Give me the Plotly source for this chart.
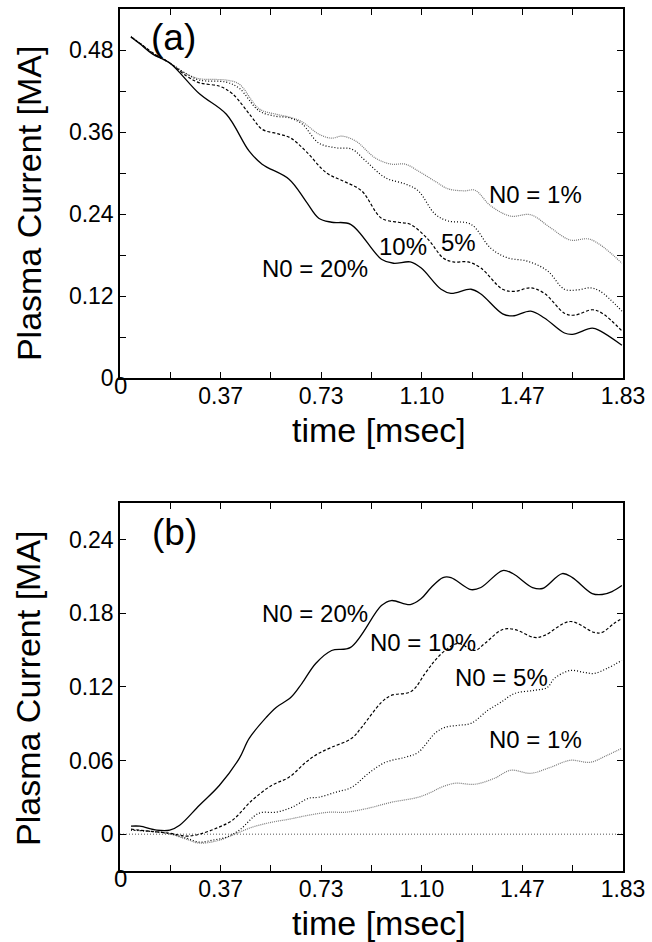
import plotly.graph_objects as go

# ---- panel (a): plasma current decay, time [msec] vs current [MA]
t_a_20 = [0.040, 0.072, 0.119, 0.181, 0.289, 0.387, 0.470, 0.517, 0.615, 0.676, 0.723, 0.770, 0.839,
          0.951, 0.995, 1.056, 1.096, 1.168, 1.204, 1.277, 1.313, 1.392, 1.429, 1.494, 1.544, 1.617,
          1.646, 1.718, 1.747, 1.826]
i_a_20 = [0.499, 0.489, 0.474, 0.461, 0.416, 0.386, 0.332, 0.313, 0.291, 0.259, 0.234, 0.228, 0.225,
          0.174, 0.168, 0.170, 0.161, 0.130, 0.124, 0.130, 0.123, 0.094, 0.091, 0.098, 0.088, 0.066,
          0.064, 0.073, 0.069, 0.048]

t_a_10 = [0.040, 0.072, 0.119, 0.181, 0.242, 0.289, 0.362, 0.409, 0.481, 0.517, 0.579, 0.622, 0.676,
          0.752, 0.814, 0.879, 0.951, 1.013, 1.056, 1.121, 1.175, 1.212, 1.266, 1.313, 1.392, 1.436,
          1.494, 1.544, 1.617, 1.653, 1.718, 1.754, 1.826]
i_a_10 = [0.499, 0.490, 0.476, 0.461, 0.442, 0.432, 0.427, 0.416, 0.381, 0.364, 0.357, 0.351, 0.332,
          0.300, 0.288, 0.274, 0.234, 0.228, 0.225, 0.203, 0.176, 0.170, 0.170, 0.161, 0.130, 0.127,
          0.132, 0.124, 0.095, 0.092, 0.100, 0.095, 0.069]

t_a_5 = [0.040, 0.072, 0.119, 0.181, 0.242, 0.289, 0.387, 0.434, 0.506, 0.568, 0.615, 0.662, 0.723,
         0.785, 0.843, 0.893, 0.966, 1.038, 1.085, 1.146, 1.193, 1.277, 1.349, 1.410, 1.483, 1.555,
         1.617, 1.664, 1.711, 1.747, 1.826]
i_a_5 = [0.499, 0.490, 0.475, 0.461, 0.445, 0.436, 0.433, 0.424, 0.391, 0.383, 0.381, 0.372, 0.344,
         0.337, 0.335, 0.318, 0.293, 0.284, 0.274, 0.240, 0.230, 0.225, 0.190, 0.176, 0.171, 0.157,
         0.130, 0.129, 0.132, 0.127, 0.098]

t_a_1 = [0.040, 0.072, 0.119, 0.181, 0.242, 0.289, 0.387, 0.434, 0.506, 0.568, 0.615, 0.662, 0.723,
         0.770, 0.807, 0.857, 0.929, 0.987, 1.038, 1.085, 1.146, 1.193, 1.255, 1.291, 1.349, 1.421,
         1.494, 1.566, 1.638, 1.711, 1.826]
i_a_1 = [0.500, 0.490, 0.475, 0.461, 0.445, 0.438, 0.436, 0.430, 0.394, 0.386, 0.382, 0.375, 0.357,
         0.351, 0.354, 0.347, 0.322, 0.313, 0.313, 0.303, 0.288, 0.277, 0.274, 0.275, 0.252, 0.237,
         0.239, 0.220, 0.202, 0.203, 0.168]

# ---- panel (b): runaway current growth
t_b_20 = [0.040, 0.072, 0.134, 0.181, 0.217, 0.289, 0.362, 0.434, 0.470, 0.532, 0.568, 0.622, 0.662,
          0.712, 0.770, 0.839, 0.951, 0.987, 1.056, 1.096, 1.132, 1.175, 1.204, 1.277, 1.313, 1.392,
          1.429, 1.501, 1.537, 1.609, 1.646, 1.718, 1.754, 1.790, 1.826]
i_b_20 = [0.0065, 0.0065, 0.0033, 0.0033, 0.0073, 0.0236, 0.0399, 0.0618, 0.0781, 0.0952, 0.1033,
          0.1115, 0.1229, 0.1391, 0.1497, 0.1522, 0.1863, 0.1904, 0.1871, 0.1920, 0.2010, 0.2091,
          0.2091, 0.1993, 0.2010, 0.2148, 0.2124, 0.2010, 0.2002, 0.2124, 0.2091, 0.1961, 0.1953,
          0.1977, 0.2026]

t_b_10 = [0.040, 0.108, 0.181, 0.242, 0.289, 0.351, 0.409, 0.481, 0.553, 0.615, 0.676, 0.723, 0.770,
          0.843, 0.879, 0.951, 0.987, 1.060, 1.110, 1.146, 1.183, 1.230, 1.291, 1.327, 1.392, 1.436,
          1.508, 1.544, 1.638, 1.725, 1.754, 1.797, 1.826]
i_b_10 = [0.0041, 0.0024, 0.0008, -0.0016, 0.0000, 0.0049, 0.0114, 0.0277, 0.0399, 0.0464, 0.0586,
          0.0659, 0.0708, 0.0781, 0.0871, 0.1074, 0.1131, 0.1164, 0.1310, 0.1416, 0.1497, 0.1554,
          0.1497, 0.1554, 0.1668, 0.1668, 0.1603, 0.1619, 0.1733, 0.1644, 0.1644, 0.1717, 0.1758]

t_b_5 = [0.040, 0.170, 0.242, 0.289, 0.336, 0.387, 0.434, 0.506, 0.568, 0.626, 0.687, 0.723, 0.785,
         0.843, 0.904, 0.966, 1.038, 1.085, 1.146, 1.183, 1.230, 1.277, 1.338, 1.385, 1.436, 1.508,
         1.555, 1.580, 1.638, 1.689, 1.725, 1.772, 1.826]
i_b_5 = [0.0033, 0.0008, -0.0033, -0.0065, -0.0049, -0.0024, 0.0033, 0.0171, 0.0179, 0.0220, 0.0293,
         0.0301, 0.0342, 0.0382, 0.0496, 0.0586, 0.0627, 0.0667, 0.0822, 0.0871, 0.0887, 0.0903,
         0.1009, 0.1074, 0.1147, 0.1172, 0.1196, 0.1269, 0.1334, 0.1318, 0.1310, 0.1351, 0.1416]

t_b_1 = [0.040, 0.170, 0.242, 0.289, 0.362, 0.409, 0.481, 0.553, 0.615, 0.687, 0.760, 0.821, 0.904,
         0.987, 1.085, 1.132, 1.168, 1.219, 1.291, 1.363, 1.421, 1.494, 1.566, 1.638, 1.711, 1.772,
         1.826]
i_b_1 = [0.0033, 0.0008, -0.0041, -0.0073, -0.0049, -0.0008, 0.0057, 0.0098, 0.0122, 0.0155, 0.0179,
         0.0179, 0.0212, 0.0260, 0.0301, 0.0342, 0.0382, 0.0415, 0.0407, 0.0456, 0.0521, 0.0496,
         0.0545, 0.0602, 0.0586, 0.0643, 0.0700]

t_zero = [0.0, 1.83]
i_zero = [0.0, 0.0]

# axis ticks
x_tick_vals = [0.0, 0.183, 0.366, 0.549, 0.732, 0.915, 1.098, 1.281, 1.464, 1.647, 1.83]
x_tick_text = ["", "", "0.37", "", "0.73", "", "1.10", "", "1.47", "", "1.83"]
ya_tick_vals = [0.0, 0.06, 0.12, 0.18, 0.24, 0.30, 0.36, 0.42, 0.48]
ya_tick_text = ["0", "", "0.12", "", "0.24", "", "0.36", "", "0.48"]
yb_tick_vals = [0.0, 0.06, 0.12, 0.18, 0.24]
yb_tick_text = ["0", "0.06", "0.12", "0.18", "0.24"]

FONT = "Liberation Sans, Arial, sans-serif"

styles = {
    "20": dict(color="black", width=1.3),
    "10": dict(color="black", width=1.2, dash="3px,2px"),
    "5": dict(color="black", width=1.2, dash="1px,2px"),
    "1": dict(color="#7a7a7a", width=1.2, dash="1px,1px"),
}

fig = go.Figure()

# panel (a)
for t, i, k in [(t_a_1, i_a_1, "1"), (t_a_5, i_a_5, "5"), (t_a_10, i_a_10, "10"), (t_a_20, i_a_20, "20")]:
    fig.add_trace(go.Scatter(x=t, y=i, mode="lines", line=styles[k], line_shape="spline",
                             showlegend=False, xaxis="x", yaxis="y"))

# panel (b)
fig.add_trace(go.Scatter(x=t_zero, y=i_zero, mode="lines", showlegend=False,
                         line=dict(color="#555555", width=1, dash="1px,2px"), xaxis="x2", yaxis="y2"))
for t, i, k in [(t_b_1, i_b_1, "1"), (t_b_5, i_b_5, "5"), (t_b_10, i_b_10, "10"), (t_b_20, i_b_20, "20")]:
    fig.add_trace(go.Scatter(x=t, y=i, mode="lines", line=styles[k], line_shape="spline",
                             showlegend=False, xaxis="x2", yaxis="y2"))

axis_common = dict(showline=True, linecolor="black", linewidth=1.5, mirror="ticks",
                   ticks="inside", ticklen=6, tickwidth=1, tickcolor="black",
                   showgrid=False, zeroline=False,
                   tickfont=dict(family=FONT, size=23, color="black"))

fig.update_layout(
    width=652, height=942,
    margin=dict(l=120, r=26, t=7, b=71),
    plot_bgcolor="white", paper_bgcolor="white",
    font=dict(family=FONT, color="black"),
    xaxis=dict(domain=[0, 1], anchor="y", range=[0, 1.83], ticklabelstandoff=-3,
               tickvals=x_tick_vals, ticktext=x_tick_text, **axis_common),
    yaxis=dict(domain=[0.5718, 1], anchor="x", range=[0, 0.54],
               tickvals=ya_tick_vals, ticktext=ya_tick_text, **axis_common),
    xaxis2=dict(domain=[0, 1], anchor="y2", range=[0, 1.83], ticklabelstandoff=-3,
                tickvals=x_tick_vals, ticktext=x_tick_text, **axis_common),
    yaxis2=dict(domain=[0, 0.4271], anchor="x2", range=[-0.03, 0.27],
                tickvals=yb_tick_vals, ticktext=yb_tick_text, **axis_common),
)

lbl = dict(family=FONT, size=24, color="black")
big = dict(family=FONT, size=37, color="black")
ttl = dict(family=FONT, size=34, color="black")

notes = [
    # panel (a)
    dict(x=0.195, y=0.498, xref="x", yref="y", text="(a)", font=big),
    dict(x=1.512, y=0.268, xref="x", yref="y", text="N0 = 1%", font=lbl),
    dict(x=1.230, y=0.199, xref="x", yref="y", text="5%", font=lbl),
    dict(x=1.031, y=0.192, xref="x", yref="y", text="10%", font=lbl),
    dict(x=0.709, y=0.161, xref="x", yref="y", text="N0 = 20%", font=lbl),
    # panel (b)
    dict(x=0.199, y=0.246, xref="x2", yref="y2", text="(b)", font=big),
    dict(x=0.709, y=0.180, xref="x2", yref="y2", text="N0 = 20%", font=lbl),
    dict(x=1.103, y=0.156, xref="x2", yref="y2", text="N0 = 10%", font=lbl),
    dict(x=1.389, y=0.128, xref="x2", yref="y2", text="N0 = 5%", font=lbl),
    dict(x=1.512, y=0.077, xref="x2", yref="y2", text="N0 = 1%", font=lbl),
    # corner zeros on the time axes
    dict(x=0.0, y=(871 - 384) / 864, xref="x", yref="paper", text="0", font=lbl),
    dict(x=0.0, y=(871 - 879) / 864, xref="x2", yref="paper", text="0", font=lbl),
    # axis titles
    dict(x=0.514, y=(871 - 429) / 864, xref="paper", yref="paper", text="time [msec]", font=ttl),
    dict(x=0.514, y=(871 - 923) / 864, xref="paper", yref="paper", text="time [msec]", font=ttl),
    dict(x=(28 - 120) / 506, y=(871 - 202) / 864, xref="paper", yref="paper",
         text="Plasma Current [MA]", textangle=-90, font=ttl),
    dict(x=(28 - 120) / 506, y=(871 - 688) / 864, xref="paper", yref="paper",
         text="Plasma Current [MA]", textangle=-90, font=ttl),
]
for n in notes:
    n.update(showarrow=False, xanchor="center", yanchor="middle")
fig.update_layout(annotations=notes)

# drop the default page margin so the figure sits at the window corner
fig.write_html("out.html", config={"displayModeBar": False},
               post_script="document.body.style.margin='0';")
